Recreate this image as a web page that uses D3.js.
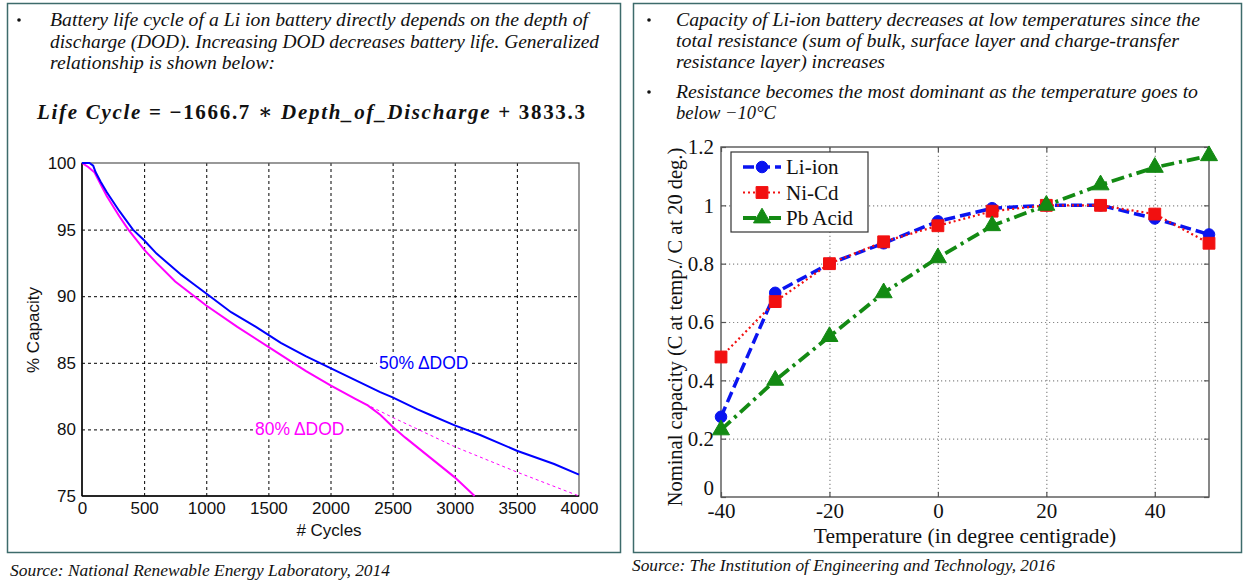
<!DOCTYPE html>
<html><head><meta charset="utf-8">
<script src="https://cdn.jsdelivr.net/npm/d3@7"></script>
<style>body{margin:0;background:#fff}</style>
</head><body><svg id="c" width="1244" height="581"></svg>
<script>
// ---- data: left chart (capacity fade vs cycles) ----
const cycles50 = [0, 60, 90, 110, 150, 200, 300, 410, 500, 600, 700, 800, 900, 1000, 1200, 1400, 1500, 1600, 1800, 2000, 2200, 2400, 2500, 2700, 2800, 3000, 3200, 3500, 3800, 4000];
const cap50    = [100, 100, 99.8, 99.3, 98.6, 97.8, 96.4, 95.0, 94.2, 93.2, 92.4, 91.6, 90.9, 90.2, 88.8, 87.7, 87.1, 86.5, 85.5, 84.6, 83.7, 82.8, 82.4, 81.5, 81.1, 80.3, 79.6, 78.4, 77.4, 76.6];
const cycles80 = [0, 50, 100, 150, 200, 300, 373, 500, 600, 750, 1000, 1250, 1500, 1800, 2000, 2200, 2300, 2400, 2500, 2600, 2800, 3000, 3160];
const cap80    = [100, 99.7, 99.3, 98.4, 97.5, 96.0, 95.0, 93.5, 92.5, 91.1, 89.3, 87.7, 86.2, 84.4, 83.3, 82.3, 81.8, 81.1, 80.2, 79.4, 77.9, 76.4, 75.0];
const cyclesExt = [2240, 2500, 3000, 3500, 4000];
const capExt    = [82.1, 80.9, 78.7, 76.8, 75.0];
const cycleTicks = [0, 500, 1000, 1500, 2000, 2500, 3000, 3500, 4000];
const capTicks = [75, 80, 85, 90, 95, 100];
const dodLabels = ["50% \u0394DOD", "80% \u0394DOD"];
const dodLabelAt = [[2390, 85], [1392, 80]];

// ---- data: right chart (capacity vs temperature) ----
const temps  = [-40, -30, -20, -10, 0, 10, 20, 30, 40, 50];
const liIon  = [0.275, 0.70, 0.80, 0.87, 0.945, 0.99, 1.0, 1.0, 0.955, 0.90];
const niCd   = [0.48, 0.67, 0.80, 0.875, 0.93, 0.98, 1.0, 1.0, 0.97, 0.87];
const pbAcid = [0.23, 0.40, 0.55, 0.70, 0.82, 0.93, 1.0, 1.07, 1.13, 1.17];
const seriesNames = ["Li-ion", "Ni-Cd", "Pb Acid"];
const tempTicks = [-40, -20, 0, 20, 40];
const tempTickLabels = ["-40", "-20", "0", "20", "40"];
const nomTicks = [0, 0.2, 0.4, 0.6, 0.8, 1, 1.2];
const nomTickLabels = ["0", "0.2", "0.4", "0.6", "0.8", "1", "1.2"];

// ---- texts ----
const leftBullet = ["Battery life cycle of a Li ion battery directly depends on the depth of",
  "discharge (DOD). Increasing DOD decreases battery life. Generalized",
  "relationship is shown below:"];
const rightBullet1 = ["Capacity of Li-ion battery decreases at low temperatures since the",
  "total resistance (sum of bulk, surface layer and charge-transfer",
  "resistance layer) increases"];
const rightBullet2 = ["Resistance becomes the most dominant as the temperature goes to",
  "below \u221210\u00B0C"];
const sources = ["Source: National Renewable Energy Laboratory, 2014",
  "Source: The Institution of Engineering and Technology, 2016"];

const svg = d3.select("#c");
svg.append("rect").attr("width", 1244).attr("height", 581).attr("fill", "#fff");

// panels
const border = "#3d6b6b";
svg.append("rect").attr("x", 7.5).attr("y", 3.5).attr("width", 613).attr("height", 549)
  .attr("fill", "none").attr("stroke", border).attr("stroke-width", 1.5);
svg.append("rect").attr("x", 633.5).attr("y", 3.5).attr("width", 608).attr("height", 549)
  .attr("fill", "none").attr("stroke", border).attr("stroke-width", 1.5);

const serifI = "'Liberation Serif', 'Times New Roman', serif";
function para(lines, x, y0, dy, lens) {
  lines.forEach((t, i) => {
    svg.append("text").attr("x", x).attr("y", y0 + i * dy)
      .attr("font-family", serifI).attr("font-style", "italic").attr("font-size", 18.5)
      .attr("fill", "#111")
      .attr("textLength", lens[i]).attr("lengthAdjust", "spacingAndGlyphs")
      .text(t);
  });
}
function bullet(x, y) {
  svg.append("circle").attr("cx", x).attr("cy", y).attr("r", 1.8).attr("fill", "#111");
}
bullet(19, 20);
para(leftBullet, 50, 26, 21.5, [538, 549, 225]);
bullet(649, 20);
para(rightBullet1, 676, 26, 21, [524, 503, 209]);
bullet(649, 92);
para(rightBullet2, 676, 98, 21, [522, 100]);

// equation
const eq = svg.append("text").attr("x", 37).attr("y", 119)
  .attr("font-family", "'Liberation Serif', 'DejaVu Serif', serif").attr("font-weight", "bold")
  .attr("font-size", 21).attr("fill", "#111")
  .attr("textLength", 548).attr("lengthAdjust", "spacing");
[["Life Cycle", true], [" =  \u22121666.7 \u2217 ", false], ["Depth_of_Discharge", true], ["  +  3833.3", false]]
  .forEach(([t, it]) => eq.append("tspan").attr("font-style", it ? "italic" : "normal").text(t));

// sources
svg.append("text").attr("x", 10).attr("y", 576).attr("font-family", serifI).attr("font-style", "italic")
  .attr("font-size", 16).attr("fill", "#111").attr("textLength", 380).attr("lengthAdjust", "spacingAndGlyphs").text(sources[0]);
svg.append("text").attr("x", 632).attr("y", 571).attr("font-family", serifI).attr("font-style", "italic")
  .attr("font-size", 16).attr("fill", "#111").attr("textLength", 423).attr("lengthAdjust", "spacingAndGlyphs").text(sources[1]);

// ================= LEFT CHART =================
const sans = "'Liberation Sans', Arial, sans-serif";
const L = {x0: 82, x1: 579, y0: 163, y1: 496};
const xL = d3.scaleLinear().domain([0, 4000]).range([L.x0, L.x1]);
const yL = d3.scaleLinear().domain([75, 100]).range([L.y1, L.y0]);
const gL = svg.append("g");

// grid
gL.append("g").attr("transform", `translate(0,${L.y1})`)
  .call(d3.axisBottom(xL).tickValues(cycleTicks.slice(1, -1)).tickSize(-(L.y1 - L.y0)).tickFormat(""))
  .call(g => g.select(".domain").remove())
  .call(g => g.selectAll("line").attr("stroke", "#000").attr("stroke-width", 1).attr("stroke-dasharray", "3,3"));
gL.append("g").attr("transform", `translate(${L.x0},0)`)
  .call(d3.axisLeft(yL).tickValues(capTicks.slice(1, -1)).tickSize(-(L.x1 - L.x0)).tickFormat(""))
  .call(g => g.select(".domain").remove())
  .call(g => g.selectAll("line").attr("stroke", "#000").attr("stroke-width", 1).attr("stroke-dasharray", "3,3"));

// frame
gL.append("rect").attr("x", L.x0).attr("y", L.y0).attr("width", L.x1 - L.x0).attr("height", L.y1 - L.y0)
  .attr("fill", "none").attr("stroke", "#555").attr("stroke-width", 1.2);
gL.append("line").attr("x1", L.x0).attr("x2", L.x1).attr("y1", L.y1).attr("y2", L.y1).attr("stroke", "#000").attr("stroke-width", 1.5);
gL.append("line").attr("x1", L.x0).attr("x2", L.x0).attr("y1", L.y0).attr("y2", L.y1).attr("stroke", "#000").attr("stroke-width", 1.5);

// axes labels
gL.append("g").attr("transform", `translate(0,${L.y1})`)
  .call(d3.axisBottom(xL).tickValues(cycleTicks).tickSize(0).tickPadding(6).tickFormat(d3.format("d")))
  .call(g => g.select(".domain").remove())
  .call(g => g.selectAll("text").attr("font-family", sans).attr("font-size", 17).attr("fill", "#111"));
gL.append("g").attr("transform", `translate(${L.x0},0)`)
  .call(d3.axisLeft(yL).tickValues(capTicks).tickSize(0).tickPadding(6).tickFormat(d3.format("d")))
  .call(g => g.select(".domain").remove())
  .call(g => g.selectAll("text").attr("font-family", sans).attr("font-size", 17).attr("fill", "#111"));
gL.append("text").attr("x", 329).attr("y", 536).attr("text-anchor", "middle")
  .attr("font-family", sans).attr("font-size", 17).attr("fill", "#111").text("# Cycles");
gL.append("text").attr("transform", `translate(39,330) rotate(-90)`).attr("text-anchor", "middle")
  .attr("font-family", sans).attr("font-size", 17).attr("fill", "#111").text("% Capacity");

// curves
const lineL = d3.line().x(d => xL(d[0])).y(d => yL(d[1]));
gL.append("path").datum(d3.zip(cyclesExt, capExt)).attr("d", lineL).attr("fill", "none")
  .attr("stroke", "#ff00ff").attr("stroke-width", 1).attr("stroke-dasharray", "3,3");
gL.append("path").datum(d3.zip(cycles80, cap80)).attr("d", lineL).attr("fill", "none")
  .attr("stroke", "#ff00ff").attr("stroke-width", 2);
gL.append("path").datum(d3.zip(cycles50, cap50)).attr("d", lineL).attr("fill", "none")
  .attr("stroke", "#0000ff").attr("stroke-width", 2);

// curve labels
const dodColors = ["#0000ff", "#ff00ff"];
dodLabels.forEach((t, i) => {
  const tx = gL.append("text").attr("x", xL(dodLabelAt[i][0])).attr("y", yL(dodLabelAt[i][1]) + 6)
    .attr("font-family", sans).attr("font-size", 17.5).attr("fill", dodColors[i]).text(t);
  const bb = tx.node().getBBox();
  gL.insert("rect", () => tx.node()).attr("x", bb.x - 2).attr("y", bb.y).attr("width", bb.width + 4)
    .attr("height", bb.height).attr("fill", "#fff");
});

// ================= RIGHT CHART =================
const times = "'Liberation Serif', 'Times New Roman', serif";
const R = {x0: 721, x1: 1209, y0: 147, y1: 497};
const xR = d3.scaleLinear().domain([-40, 50]).range([R.x0, R.x1]);
const yR = d3.scaleLinear().domain([0, 1.2]).range([R.y1, R.y0]);
const gR = svg.append("g");

// grid
gR.append("g").attr("transform", `translate(0,${R.y1})`)
  .call(d3.axisBottom(xR).tickValues(tempTicks.slice(1)).tickSize(-(R.y1 - R.y0)).tickFormat(""))
  .call(g => g.select(".domain").remove())
  .call(g => g.selectAll("line").attr("stroke", "#888").attr("stroke-width", 1.2).attr("stroke-dasharray", "1.2,2.8"));
gR.append("g").attr("transform", `translate(${R.x0},0)`)
  .call(d3.axisLeft(yR).tickValues(nomTicks.slice(1, -1)).tickSize(-(R.x1 - R.x0)).tickFormat(""))
  .call(g => g.select(".domain").remove())
  .call(g => g.selectAll("line").attr("stroke", "#888").attr("stroke-width", 1.2).attr("stroke-dasharray", "1.2,2.8"));

// frame
gR.append("rect").attr("x", R.x0).attr("y", R.y0).attr("width", R.x1 - R.x0).attr("height", R.y1 - R.y0)
  .attr("fill", "none").attr("stroke", "#555").attr("stroke-width", 1.4);

// inward ticks and labels
gR.append("g").attr("transform", `translate(0,${R.y1})`)
  .call(d3.axisBottom(xR).tickValues(tempTicks).tickSizeInner(-5).tickSizeOuter(0).tickPadding(6)
    .tickFormat((d, i) => tempTickLabels[i]))
  .call(g => g.select(".domain").remove())
  .call(g => g.selectAll("line").attr("stroke", "#555").attr("stroke-width", 1.2))
  .call(g => g.selectAll("text").attr("font-family", times).attr("font-size", 21).attr("fill", "#111"));
gR.append("g").attr("transform", `translate(0,${R.y0})`)
  .call(d3.axisTop(xR).tickValues(tempTicks).tickSizeInner(-5).tickSizeOuter(0).tickFormat(""))
  .call(g => g.select(".domain").remove())
  .call(g => g.selectAll("line").attr("stroke", "#555").attr("stroke-width", 1.2));
gR.append("g").attr("transform", `translate(${R.x0},0)`)
  .call(d3.axisLeft(yR).tickValues(nomTicks).tickSizeInner(-5).tickSizeOuter(0).tickPadding(7)
    .tickFormat((d, i) => nomTickLabels[i]))
  .call(g => g.select(".domain").remove())
  .call(g => g.selectAll("line").attr("stroke", "#555").attr("stroke-width", 1.2))
  .call(g => g.selectAll("text").attr("font-family", times).attr("font-size", 21).attr("fill", "#111"))
  .call(g => g.selectAll(".tick").filter(d => d === 0).select("text").attr("dy", "-0.1em"));
gR.append("g").attr("transform", `translate(${R.x1},0)`)
  .call(d3.axisRight(yR).tickValues(nomTicks).tickSizeInner(-5).tickSizeOuter(0).tickFormat(""))
  .call(g => g.select(".domain").remove())
  .call(g => g.selectAll("line").attr("stroke", "#555").attr("stroke-width", 1.2));

gR.append("text").attr("x", 965).attr("y", 543).attr("text-anchor", "middle")
  .attr("font-family", times).attr("font-size", 21.5).attr("fill", "#111").text("Temperature (in degree centigrade)");
gR.append("text").attr("transform", `translate(682,327) rotate(-90)`).attr("text-anchor", "middle")
  .attr("font-family", times).attr("font-size", 20.5).attr("fill", "#111").text("Nominal capacity (C at temp./ C at 20 deg.)");

// series
const series = [
  {name: seriesNames[0], vals: liIon, color: "#0a14f0", dash: "11,5", width: 3.5, marker: "circle"},
  {name: seriesNames[1], vals: niCd, color: "#f21010", dash: "2,3", width: 2.2, marker: "square"},
  {name: seriesNames[2], vals: pbAcid, color: "#138a13", dash: "13,5,3,5", width: 3.8, marker: "triangle"}
];
const lineR = d3.line().x(d => xR(d[0])).y(d => yR(d[1]));
const sym = {circle: d3.symbol().type(d3.symbolCircle).size(105),
             square: d3.symbol().type(d3.symbolSquare).size(140),
             triangle: d3.symbol().type(d3.symbolTriangle).size(125)};
series.forEach(s => {
  const pts = d3.zip(temps, s.vals);
  gR.append("path").datum(pts).attr("d", lineR).attr("fill", "none").attr("stroke", s.color)
    .attr("stroke-width", s.width).attr("stroke-dasharray", s.dash);
  gR.selectAll(null).data(pts).enter().append("path")
    .attr("transform", d => `translate(${xR(d[0])},${yR(d[1])})`)
    .attr("d", sym[s.marker]).attr("fill", s.color).attr("stroke", s.color).attr("stroke-width", 1)
    .attr("stroke-linejoin", "round");
});

// legend
const lg = gR.append("g");
lg.append("rect").attr("x", 731).attr("y", 152).attr("width", 137).attr("height", 80)
  .attr("fill", "#fff").attr("stroke", "#333").attr("stroke-width", 1.2);
series.forEach((s, i) => {
  const yy = 167 + i * 25.5;
  lg.append("line").attr("x1", 743).attr("x2", 781).attr("y1", yy).attr("y2", yy).attr("stroke", s.color)
    .attr("stroke-width", s.width).attr("stroke-dasharray", s.dash);
  lg.append("path").attr("transform", `translate(762,${yy})`).attr("d", sym[s.marker])
    .attr("fill", s.color).attr("stroke", s.color).attr("stroke-linejoin", "round");
  lg.append("text").attr("x", 786).attr("y", yy + 7).attr("font-family", times).attr("font-size", 21)
    .attr("fill", "#111").text(s.name);
});
</script></body></html>
